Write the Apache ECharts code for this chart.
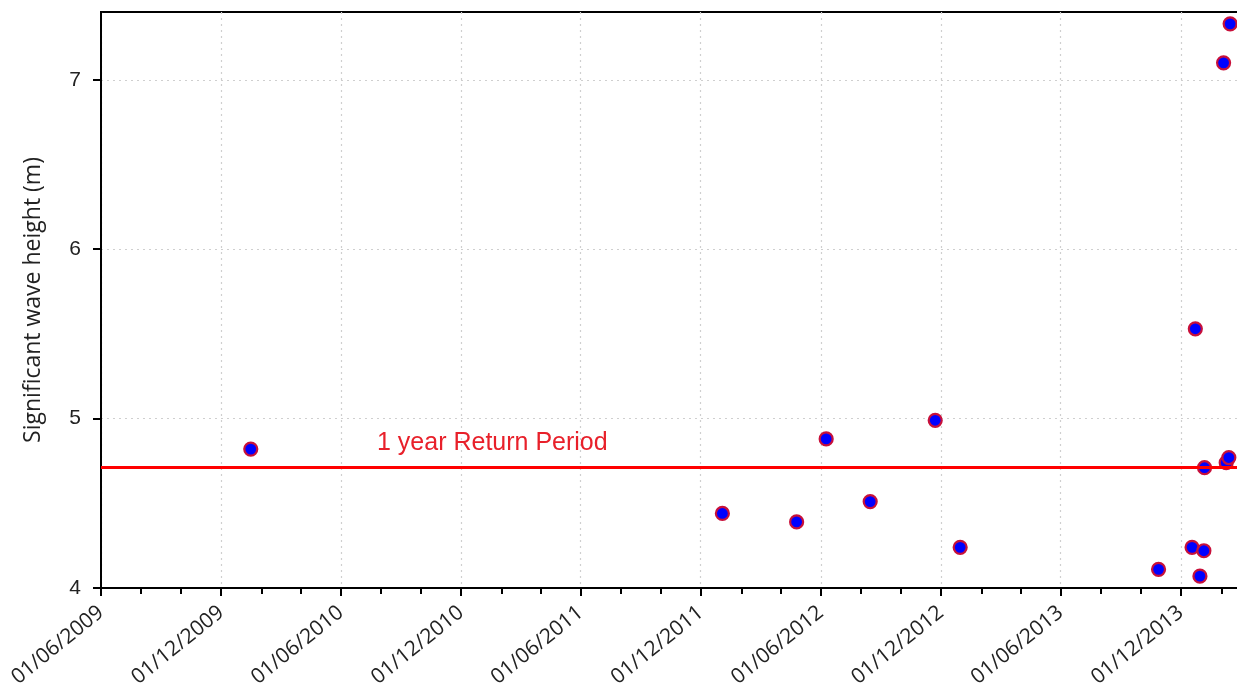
<!DOCTYPE html>
<html>
<head>
<meta charset="utf-8">
<script src="https://cdn.jsdelivr.net/npm/echarts@6/dist/echarts.min.js"></script>
<style>
html,body{margin:0;padding:0;background:#fff;}
#chart{width:1237px;height:695px;}
</style>
</head>
<body>
<div id="chart"></div>
<script>
// ---- data ----
const eventDates = ['2010-01-15','2012-01-03','2012-04-25','2012-06-09','2012-08-15','2012-11-22','2012-12-30',
  '2013-10-28','2013-12-18','2013-12-23','2013-12-30','2014-01-05','2014-01-06','2014-02-04','2014-02-08','2014-02-12','2014-02-14'];
const waveHeights = [4.82,4.44,4.39,4.88,4.51,4.99,4.24,
  4.11,4.24,5.53,4.07,4.22,4.71,7.10,4.74,4.77,7.33];
const returnPeriodValue = 4.71;
const returnPeriodLabel = '1 year Return Period';
const majorTickLabels = ['01/06/2009','01/12/2009','01/06/2010','01/12/2010','01/06/2011','01/12/2011',
  '01/06/2012','01/12/2012','01/06/2013','01/12/2013'];
const minorTickLabels = ['01/08/2009','01/10/2009','01/02/2010','01/04/2010','01/08/2010','01/10/2010',
  '01/02/2011','01/04/2011','01/08/2011','01/10/2011','01/02/2012','01/04/2012','01/08/2012','01/10/2012',
  '01/02/2013','01/04/2013','01/08/2013','01/10/2013','01/02/2014'];
const yTicks = [4,5,6,7];
const xStart = '01/06/2009';
const xEnd = '01/03/2014';
const yMin = 4, yMax = 7.4;

// ---- helpers ----
function parseDMY(s){ const p = s.split('/'); return Date.UTC(+p[2], +p[1]-1, +p[0]); }
function parseISO(s){ const p = s.split('-'); return Date.UTC(+p[0], +p[1]-1, +p[2]); }
function fmt(v){ const d = new Date(v); const dd = String(d.getUTCDate()).padStart(2,'0');
  const mm = String(d.getUTCMonth()+1).padStart(2,'0'); return dd+'/'+mm+'/'+d.getUTCFullYear(); }

const points = eventDates.map((d,i)=>[parseISO(d), waveHeights[i]]);
const majorVals = majorTickLabels.map(parseDMY);
const minorVals = minorTickLabels.map(parseDMY);

const chart = echarts.init(document.getElementById('chart'), null, {renderer:'canvas'});
const gridLine = {show:true, lineStyle:{color:'#cfcfcf', width:1.2, type:[2,4]}};
chart.setOption({
  backgroundColor:'#fff',
  animation:false,
  grid:{left:101, right:-3, top:12, bottom:107, show:true, borderColor:'#000', borderWidth:2, containLabel:false, outerBoundsMode:'none'},
  xAxis:[{
    type:'value', min:parseDMY(xStart), max:parseDMY(xEnd), position:'bottom',
    axisLine:{show:true, onZero:false, lineStyle:{color:'#000', width:2}},
    axisTick:{show:true, inside:false, length:8, customValues:majorVals, lineStyle:{color:'#000', width:2}},
    axisLabel:{show:true, customValues:majorVals, formatter:fmt, rotate:39, margin:22,
      fontFamily:'Open Sans', fontSize:21, color:'#222'},
    splitLine:gridLine
  },{
    type:'value', min:parseDMY(xStart), max:parseDMY(xEnd), position:'bottom',
    axisLine:{show:false, onZero:false},
    axisTick:{show:true, inside:false, length:6, customValues:minorVals, lineStyle:{color:'#000', width:2}},
    axisLabel:{show:false},
    splitLine:{show:false}
  }],
  yAxis:{
    type:'value', min:yMin, max:yMax, position:'left',
    name:'Significant wave height (m)', nameLocation:'middle', nameGap:56, nameRotate:90,
    nameTextStyle:{fontFamily:'Open Sans', fontSize:23, color:'#222'},
    axisLine:{show:true, onZero:false, lineStyle:{color:'#000', width:2}},
    axisTick:{show:true, inside:false, length:8, customValues:yTicks, lineStyle:{color:'#000', width:2}},
    axisLabel:{show:true, customValues:yTicks, margin:20, fontFamily:'Liberation Sans', fontSize:21, color:'#222'},
    splitLine:gridLine
  },
  series:[{
    type:'line', data:[], xAxisIndex:0, z:1, silent:true,
    markLine:{silent:true, symbol:'none', animation:false, label:{show:false},
      lineStyle:{color:'#ff0000', width:3, type:'solid'},
      data:[{yAxis:returnPeriodValue}]}
  },{
    type:'scatter', data:points, xAxisIndex:0, z:3, symbol:'circle', symbolSize:13,
    itemStyle:{color:'#0000ff', borderColor:'#c8103a', borderWidth:2.2, opacity:1}
  }],
  graphic:[{type:'text', left:377, top:431, z:10, silent:true,
    style:{text:returnPeriodLabel, fill:'#e8202a', font:'25px "Liberation Sans"'}}]
});
</script>
</body>
</html>
